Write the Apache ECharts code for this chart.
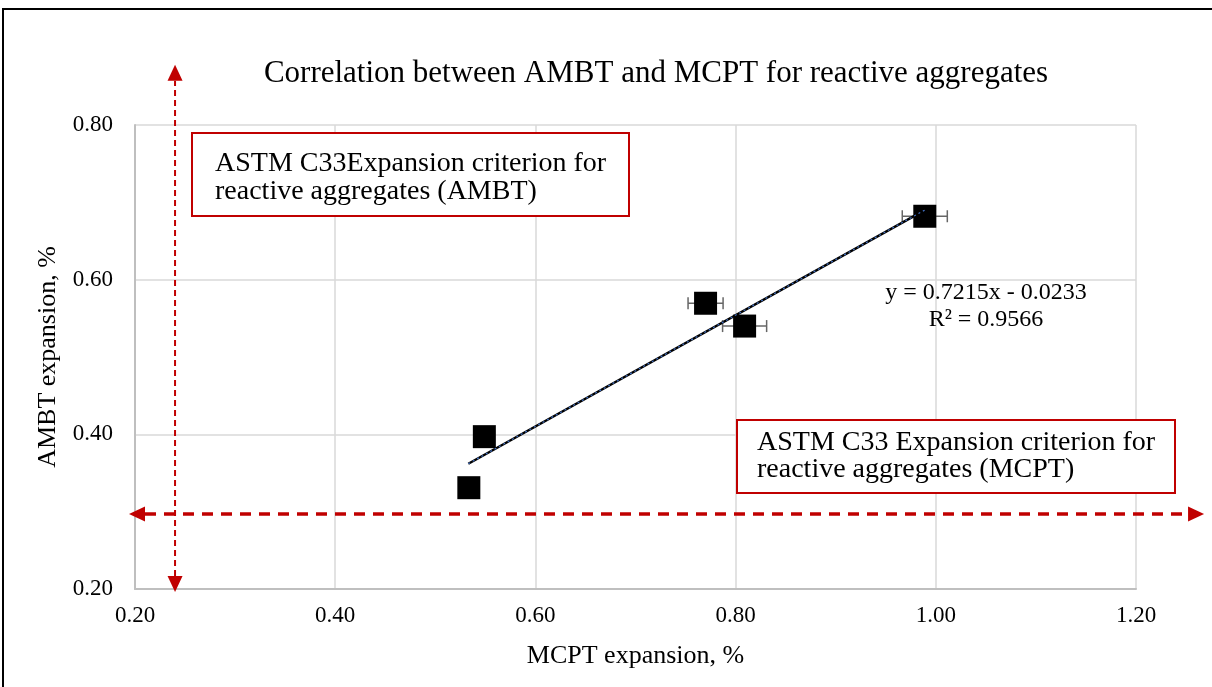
<!DOCTYPE html>
<html><head><meta charset="utf-8">
<script src="https://cdn.jsdelivr.net/npm/echarts@6/dist/echarts.min.js"></script>
<style>html,body{margin:0;padding:0;background:#fff}#c{width:1212px;height:687px}</style>
</head><body><div id="c"></div>
<script>
// ---- data ----
const mcptValues = [0.989, 0.770, 0.809, 0.549, 0.5335];   // x, MCPT expansion %
const ambtValues = [0.682, 0.5695, 0.540, 0.397, 0.331];   // y, AMBT expansion %
const mcptErrors = [0.0225, 0.0175, 0.022, 0.01, 0.01];     // horizontal error bars
const trendX = [0.533, 0.989];
const trendY = [0.362, 0.690];
const xTickMin = 0.2, xTickMax = 1.2, xTickStep = 0.2;
const yTickMin = 0.2, yTickMax = 0.8, yTickStep = 0.2;
// criterion arrows: [x1, y1, x2, y2, style]
const vArrow = [0.240, 0.196, 0.240, 0.878, 0];
const hArrow = [0.194, 0.297, 1.268, 0.297, 1];
const titleText = 'Correlation between AMBT and MCPT for reactive aggregates';
const eqLines = ['y = 0.7215x - 0.0233', 'R² = 0.9566'];
const boxAmbt = ['ASTM C33Expansion criterion for', 'reactive aggregates (AMBT)'];
const boxMcpt = ['ASTM C33 Expansion criterion for', 'reactive aggregates (MCPT)'];

const FONT = '"Liberation Serif","Times New Roman",serif';
const RED = '#c00000';

const points = mcptValues.map((x, i) => [x, ambtValues[i]]);
const errData = mcptValues.map((x, i) => [x, ambtValues[i], mcptErrors[i]]);
const trendData = trendX.map((x, i) => [x, trendY[i]]);

const chart = echarts.init(document.getElementById('c'), null, {renderer: 'canvas'});

function arrowItem(params, api) {
  const p1 = api.coord([api.value(0), api.value(1)]);
  const p2 = api.coord([api.value(2), api.value(3)]);
  const thick = api.value(4) === 1;
  const dx = p2[0] - p1[0], dy = p2[1] - p1[1];
  const len = Math.sqrt(dx * dx + dy * dy);
  const ux = dx / len, uy = dy / len, nx = -uy, ny = ux;
  const L = 16, W = 15;
  const head = (tip, dir) => {
    const bx = tip[0] - dir * ux * L, by = tip[1] - dir * uy * L;
    return {type: 'polygon', shape: {points: [tip, [bx + nx * W / 2, by + ny * W / 2], [bx - nx * W / 2, by - ny * W / 2]]},
      style: {fill: RED}};
  };
  return {type: 'group', children: [
    {type: 'line', shape: {x1: p1[0] + ux * L, y1: p1[1] + uy * L, x2: p2[0] - ux * L, y2: p2[1] - uy * L},
      style: {stroke: RED, lineWidth: thick ? 3.5 : 2, lineDash: thick ? [11, 8] : [6, 4]}},
    head(p1, -1), head(p2, 1)
  ]};
}

function errItem(params, api) {
  const x = api.value(0), y = api.value(1), e = api.value(2);
  const a = api.coord([x - e, y]), b = api.coord([x + e, y]);
  const h = 6, st = {stroke: '#666', lineWidth: 1.5};
  return {type: 'group', children: [
    {type: 'line', shape: {x1: a[0], y1: a[1], x2: b[0], y2: b[1]}, style: st},
    {type: 'line', shape: {x1: a[0], y1: a[1] - h, x2: a[0], y2: a[1] + h}, style: st},
    {type: 'line', shape: {x1: b[0], y1: b[1] - h, x2: b[0], y2: b[1] + h}, style: st}
  ]};
}

function boxGraphics(x, y, w, h, lines, tx, baselines) {
  return [
    {type: 'rect', z: 50, shape: {x: x, y: y, width: w, height: h}, style: {fill: '#fff', stroke: RED, lineWidth: 2}},
    ...lines.map((t, i) => ({type: 'text', z: 51, style: {text: t, x: tx, y: baselines[i] - 3, font: '28px ' + FONT,
      fill: '#000', align: 'left', verticalAlign: 'middle'}}))
  ];
}

const option = {
  backgroundColor: '#fff',
  animation: false,
  grid: {left: 135, right: 76, top: 125, bottom: 98},
  xAxis: {
    type: 'value', min: xTickMin, max: xTickMax, interval: xTickStep,
    name: 'MCPT expansion, %', nameLocation: 'middle', nameGap: 54,
    nameTextStyle: {fontFamily: FONT, fontSize: 26, color: '#000'},
    axisLine: {show: true, onZero: false, lineStyle: {color: '#bfbfbf', width: 2}},
    axisTick: {show: false},
    axisLabel: {margin: 15, fontFamily: FONT, fontSize: 23, color: '#000', formatter: v => v.toFixed(2)},
    splitLine: {show: true, lineStyle: {color: '#d9d9d9', width: 1.5}}
  },
  yAxis: {
    type: 'value', min: yTickMin, max: yTickMax, interval: yTickStep,
    name: 'AMBT expansion, %', nameLocation: 'middle', nameGap: 74,
    nameTextStyle: {fontFamily: FONT, fontSize: 26, color: '#000'},
    axisLine: {show: true, onZero: false, lineStyle: {color: '#bfbfbf', width: 2}},
    axisTick: {show: false},
    axisLabel: {margin: 22, fontFamily: FONT, fontSize: 23, color: '#000', formatter: v => v.toFixed(2)},
    splitLine: {show: true, lineStyle: {color: '#d9d9d9', width: 1.5}}
  },
  series: [
    {type: 'custom', name: 'arrows', renderItem: arrowItem, data: [vArrow, hArrow], clip: false, z: 3,
      encode: {x: [0, 2], y: [1, 3]}, silent: true},
    {type: 'custom', name: 'errors', renderItem: errItem, data: errData, z: 4,
      encode: {x: 0, y: 1}, silent: true},
    {type: 'scatter', name: 'points', data: points, symbol: 'rect', symbolSize: 23,
      itemStyle: {color: '#000', opacity: 1}, z: 5},
    {type: 'line', name: 'trend', data: trendData, symbol: 'none', z: 6,
      lineStyle: {color: '#000', width: 2.5}},
    {type: 'line', name: 'trend2', data: trendData, symbol: 'none', z: 7,
      lineStyle: {color: '#4472c4', width: 1.2, type: [2, 3]}}
  ],
  graphic: [
    {type: 'rect', z: 60, silent: true, shape: {x: 3, y: 9, width: 1400, height: 900},
      style: {fill: 'none', stroke: '#000', lineWidth: 2}},
    {type: 'text', z: 50, style: {text: titleText, x: 656, y: 74, font: '31px ' + FONT, fill: '#000',
      align: 'center', verticalAlign: 'middle'}},
    {type: 'text', z: 50, style: {text: eqLines[0], x: 986, y: 293, font: '24px ' + FONT, fill: '#000',
      align: 'center', verticalAlign: 'middle'}},
    {type: 'text', z: 50, style: {text: eqLines[1], x: 986, y: 320, font: '24px ' + FONT, fill: '#000',
      align: 'center', verticalAlign: 'middle'}},
    ...boxGraphics(192, 133, 437, 83, boxAmbt, 215, [167, 195]),
    ...boxGraphics(737, 420, 438, 73, boxMcpt, 757, [446, 473])
  ]
};
chart.setOption(option);
</script>
</body></html>
